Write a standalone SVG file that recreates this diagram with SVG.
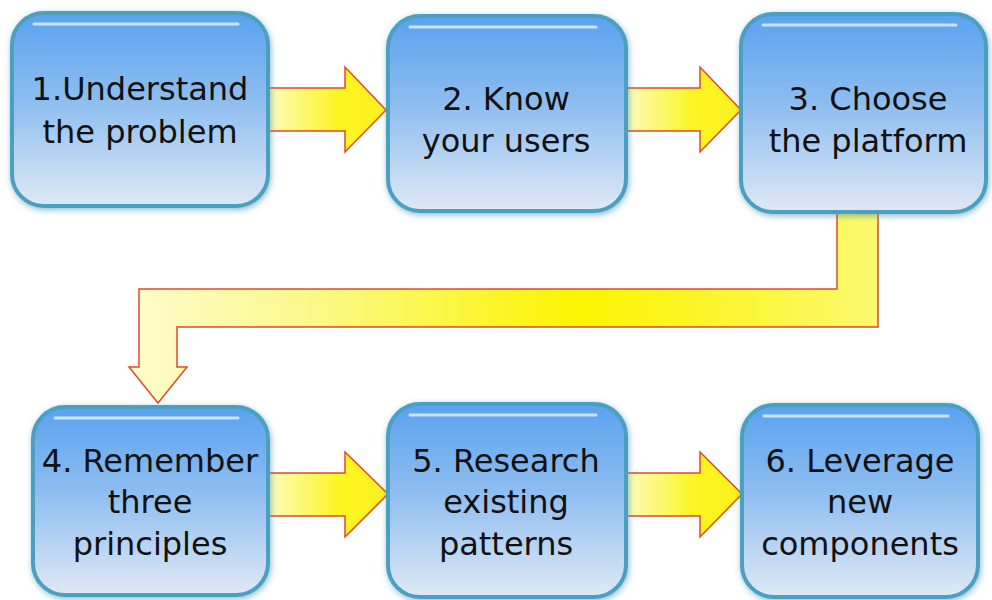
<svg xmlns="http://www.w3.org/2000/svg" width="992" height="600" viewBox="0 0 992 600">
<defs>
<linearGradient id="boxg" x1="0" y1="0" x2="0" y2="1">
<stop offset="0" stop-color="#5aa2f0"/>
<stop offset="0.45" stop-color="#8dbdf0"/>
<stop offset="1" stop-color="#dfe9f5"/>
</linearGradient>
<linearGradient id="arrh" x1="0" y1="0" x2="1" y2="0">
<stop offset="0" stop-color="#fdfbc0"/>
<stop offset="0.6" stop-color="#fbf520"/>
<stop offset="1" stop-color="#fdf020"/>
</linearGradient>
<linearGradient id="arrb" x1="0" y1="0" x2="1" y2="0">
<stop offset="0" stop-color="#fdfccc"/>
<stop offset="0.25" stop-color="#fbf888"/>
<stop offset="0.6" stop-color="#fbf400"/>
<stop offset="0.85" stop-color="#fbf640"/>
<stop offset="1" stop-color="#fcf870"/>
</linearGradient>
<filter id="glow" x="-10%" y="-10%" width="120%" height="120%">
<feGaussianBlur in="SourceAlpha" stdDeviation="3"/>
<feOffset dx="1" dy="2" result="b"/>
<feFlood flood-color="#3a8fae" flood-opacity="0.6"/>
<feComposite in2="b" operator="in" result="s"/>
<feMerge><feMergeNode in="s"/><feMergeNode in="SourceGraphic"/></feMerge>
</filter>
</defs>
<style>
.box{fill:url(#boxg);stroke:#4b9fc0;stroke-width:4;filter:url(#glow)}
.hl{fill:none;stroke:#ffffff;stroke-opacity:0.7;stroke-width:3;stroke-linecap:round}
.lbl{font-family:"DejaVu Sans",sans-serif;font-size:32px;fill:#111;text-anchor:middle}
.arr{fill:url(#arrh);stroke:#e04a2a;stroke-width:1.5;stroke-linejoin:miter}
.bent{fill:url(#arrb);stroke:#e04a2a;stroke-width:1.5}
</style>
<rect width="992" height="600" fill="#ffffff"/>
<g id="connectors">
<path class="arr" d="M268,88 H345 V67 L386,110 L345,152 V131 H268 Z"/>
<path class="arr" d="M625,88 H700 V67 L741,110 L700,152 V131 H625 Z"/>
<path class="arr" d="M268,473 H345 V452 L388,494 L345,537 V516 H268 Z"/>
<path class="arr" d="M625,473 H700 V452 L742,494 L700,537 V516 H625 Z"/>
<path class="bent" d="M878,212 V327 H177 V367 H187 L158,403 L129,367 H139 V289 H837 V212 Z"/>
</g>
<g id="n1">
<rect class="box" x="12" y="13" width="256" height="193" rx="32"/>
<path class="hl" d="M34,24 H238"/>
<text class="lbl" x="140" y="100">1.Understand</text>
<text class="lbl" x="140" y="143">the problem</text>
</g>
<g id="n2">
<rect class="box" x="388" y="16" width="238" height="195" rx="32"/>
<path class="hl" d="M410,27 H596"/>
<text class="lbl" x="506" y="110">2. Know</text>
<text class="lbl" x="506" y="152">your users</text>
</g>
<g id="n3">
<rect class="box" x="741" y="14" width="245" height="198" rx="32"/>
<path class="hl" d="M763,25 H956"/>
<text class="lbl" x="868" y="110">3. Choose</text>
<text class="lbl" x="868" y="152">the platform</text>
</g>
<g id="n4">
<rect class="box" x="33" y="407" width="235" height="188" rx="32"/>
<path class="hl" d="M55,418 H238"/>
<text class="lbl" x="150" y="472">4. Remember</text>
<text class="lbl" x="150" y="513">three</text>
<text class="lbl" x="150" y="555">principles</text>
</g>
<g id="n5">
<rect class="box" x="388" y="404" width="238" height="193" rx="32"/>
<path class="hl" d="M410,415 H596"/>
<text class="lbl" x="506" y="472">5. Research</text>
<text class="lbl" x="506" y="513">existing</text>
<text class="lbl" x="506" y="555">patterns</text>
</g>
<g id="n6">
<rect class="box" x="742" y="405" width="236" height="192" rx="32"/>
<path class="hl" d="M764,416 H948"/>
<text class="lbl" x="860" y="472">6. Leverage</text>
<text class="lbl" x="860" y="513">new</text>
<text class="lbl" x="860" y="555">components</text>
</g>
</svg>
